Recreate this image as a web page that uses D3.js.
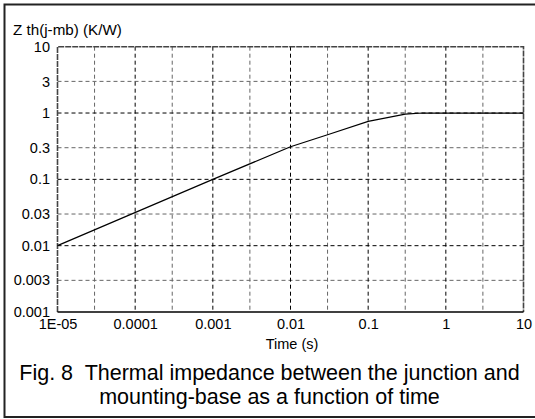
<!DOCTYPE html>
<html><head><meta charset="utf-8">
<script src="https://cdn.jsdelivr.net/npm/d3@7/dist/d3.min.js"></script>
<style>
html,body{margin:0;padding:0;background:#fff;}
svg{display:block;font-family:"Liberation Sans",Arial,sans-serif;}
</style></head>
<body>
<svg id="c" width="535" height="419"></svg>
<script>
const times = [1e-5, 1e-3, 0.01, 0.03, 0.1, 0.3, 0.5, 10];
const zth   = [0.01, 0.1, 0.31, 0.47, 0.75, 0.965, 1, 1];
const xTicks = [1e-5, 1e-4, 1e-3, 1e-2, 0.1, 1, 10];
const xTickLabels = ["1E-05", "0.0001", "0.001", "0.01", "0.1", "1", "10"];
const xMinor = [3e-5, 3e-4, 3e-3, 0.03, 0.3, 3];
const yTicks = [10, 3, 1, 0.3, 0.1, 0.03, 0.01, 0.003, 0.001];
const yTickLabels = ["10", "3", "1", "0.3", "0.1", "0.03", "0.01", "0.003", "0.001"];
const yMajor = [10, 1, 0.1, 0.01, 0.001];
const yTitle = "Z th(j-mb) (K/W)";
const xTitle = "Time (s)";
const caption = ["Fig. 8\u00a0 Thermal impedance between the junction and", "mounting-base as a function of time"];

const svg = d3.select("#c");
const L = 57.5, R = 523.5, T = 46.7, B = 312;
const x = d3.scaleLog().domain([1e-5, 10]).range([L, R]);
const y = d3.scaleLog().domain([0.001, 10]).range([B, T]);
const FF = "Liberation Sans, Arial, sans-serif";

// outer frame
svg.append("path").attr("d", `M540,4.5 H4.5 V417 H540`).attr("fill","none").attr("stroke","#222").attr("stroke-width",2);

const g = svg.append("g");
// minor (3x) grid - gray
g.selectAll(".vx").data(xMinor).join("line")
  .attr("x1", d=>x(d)).attr("x2", d=>x(d)).attr("y1", T).attr("y2", B)
  .attr("stroke","#666").attr("stroke-width",1).attr("stroke-dasharray","4,3");
g.selectAll(".hy").data(yTicks.filter(v=>!yMajor.includes(v))).join("line")
  .attr("y1", d=>y(d)).attr("y2", d=>y(d)).attr("x1", L).attr("x2", R)
  .attr("stroke","#666").attr("stroke-width",1).attr("stroke-dasharray","4,3");
// major grid - black
g.selectAll(".vX").data(xTicks.slice(1,-1)).join("line")
  .attr("x1", d=>x(d)).attr("x2", d=>x(d)).attr("y1", T).attr("y2", B)
  .attr("stroke","#000").attr("stroke-width",1).attr("stroke-dasharray","4,3");
g.selectAll(".hY").data(yMajor.slice(1,-1)).join("line")
  .attr("y1", d=>y(d)).attr("y2", d=>y(d)).attr("x1", L).attr("x2", R)
  .attr("stroke","#000").attr("stroke-width",1).attr("stroke-dasharray","4,3");

// plot border
svg.append("path").attr("d", `M${L},${B} V${T} H${R} V${B}`).attr("fill","none")
  .attr("stroke","#444").attr("stroke-width",1.6).attr("stroke-dasharray","6,1");
svg.append("line").attr("x1",L).attr("x2",R).attr("y1",B).attr("y2",B).attr("stroke","#000").attr("stroke-width",1.3);

// axes labels via d3 axes (no lines)
const xAxis = d3.axisBottom(x).tickValues(xTicks).tickFormat((d,i)=>xTickLabels[i]).tickSize(0).tickPadding(7);
const xa = svg.append("g").attr("transform",`translate(0,${B})`).call(xAxis);
xa.select(".domain").remove();
xa.selectAll("text").attr("font-size",14.5).attr("fill","#000").attr("font-family",FF);

const yAxis = d3.axisLeft(y).tickValues(yTicks).tickFormat((d,i)=>yTickLabels[i]).tickSize(0).tickPadding(7.5);
const ya = svg.append("g").attr("transform",`translate(${L},0)`).call(yAxis);
ya.select(".domain").remove();
ya.selectAll("text").attr("font-size",14.5).attr("fill","#000").attr("font-family",FF);

// curve
const line = d3.line().x(d=>x(d[0])).y(d=>y(d[1]));
svg.append("path").datum(times.map((t,i)=>[t, zth[i]])).attr("d", line)
  .attr("fill","none").attr("stroke","#000").attr("stroke-width",1.2);

// titles
svg.append("text").attr("x",13).attr("y",35).attr("font-size",15.2).text(yTitle);
svg.append("text").attr("x",292).attr("y",349).attr("text-anchor","middle").attr("font-size",14.5).text(xTitle);
svg.selectAll(".cap").data(caption).join("text")
  .attr("x",269.5).attr("y",(d,i)=>380+i*24).attr("text-anchor","middle").attr("font-size",21.5).text(d=>d);
</script>
</body></html>
